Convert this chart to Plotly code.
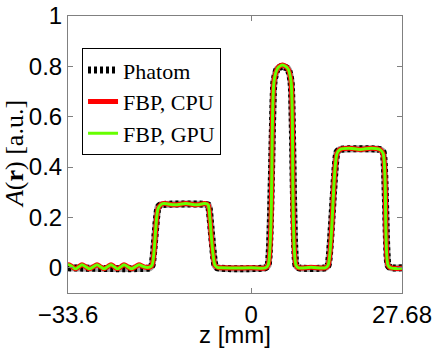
import plotly.graph_objects as go

# Profile knots (z in mm, A in a.u.)
z_fbp = [-33.6, -33.42, -32.82, -32.22, -31.62, -31.03, -30.34, -29.65, -28.96,
         -28.28, -27.64, -27.0, -26.35, -25.71, -25.11, -24.52, -23.92, -23.32,
         -22.63, -21.95, -21.26, -20.57, -19.9, -19.3, -18.6, -18.19, -17.08,
         -16.6, -16.0, -14.0, -12.0, -10.0, -8.5, -7.9, -7.73, -6.63, -6.2,
         -5.5, 0.0, 2.6, 3.1, 4.2, 4.8, 5.2, 5.76, 6.3, 6.77, 7.32, 8.24, 8.7,
         11.0, 13.6, 14.11, 15.76, 16.3, 18.0, 20.0, 22.0, 23.6, 24.2, 25.12,
         25.6, 27.68]
a_fbp = [0.008, 0.012, 0.004, -0.004, 0.004, 0.012, 0.004, -0.004, 0.004,
         0.012, 0.004, -0.004, 0.004, 0.012, 0.004, -0.004, 0.004, 0.012,
         0.004, -0.004, 0.004, 0.012, 0.006, 0.002, 0.003, 0.01, 0.235,
         0.25, 0.255, 0.25, 0.255, 0.25, 0.255, 0.25, 0.235, 0.01, 0.002,
         0.0, 0.0, 0.0, 0.01, 0.74, 0.79, 0.80, 0.805, 0.80, 0.79, 0.74, 0.01, 0.0,
         0.002, 0.0, 0.01, 0.455, 0.47, 0.475, 0.47, 0.475, 0.47, 0.455, 0.01,
         0.0, -0.002]

z_ph = [-33.6, -18.6, -18.19, -17.08, -16.6, -7.9, -7.73, -6.63, -6.2,
        2.6, 3.1, 4.2, 4.8, 5.76, 6.77, 7.32, 8.24, 8.7,
        13.6, 14.11, 15.76, 16.3, 23.6, 24.2, 25.12, 25.6, 27.68]
a_ph = [0.0, 0.0, 0.01, 0.24, 0.25, 0.25, 0.24, 0.01, 0.0,
        0.0, 0.01, 0.74, 0.79, 0.80, 0.79, 0.74, 0.01, 0.0,
        0.0, 0.01, 0.46, 0.47, 0.47, 0.46, 0.01, 0.0, 0.0]

x_tickvals = [-33.6, 0, 27.68]
x_ticktext = ["\u221233.6", "0", "27.68"]
y_tickvals = [0, 0.2, 0.4, 0.6, 0.8, 1]
y_ticktext = ["0", "0.2", "0.4", "0.6", "0.8", "1"]

sans = "Liberation Sans, Arial, sans-serif"
serif = "Liberation Serif, Times New Roman, serif"

fig = go.Figure()
fig.add_trace(go.Scatter(x=z_ph, y=a_ph, mode="lines", showlegend=False,
                         line=dict(color="#a0a0a0", width=7, shape="spline", smoothing=0.5),
                         hoverinfo="skip"))
fig.add_trace(go.Scatter(x=z_ph, y=a_ph, mode="lines", name="Phatom",
                         line=dict(color="black", width=7, dash="3px,3px",
                                   shape="spline", smoothing=0.5)))
fig.add_trace(go.Scatter(x=z_fbp, y=a_fbp, mode="lines", name="FBP, CPU",
                         line=dict(color="#ff0000", width=5, shape="spline", smoothing=0.9)))
fig.add_trace(go.Scatter(x=z_fbp, y=a_fbp, mode="lines", name="FBP, GPU",
                         line=dict(color="#66ff00", width=3, shape="spline", smoothing=0.9)))

axis_common = dict(showline=True, linecolor="#808080", linewidth=1, mirror="ticks",
                   ticks="inside", ticklen=5, tickcolor="#808080", showgrid=False,
                   zeroline=False, automargin=False, ticklabeloverflow="allow",
                   tickfont=dict(family=sans, size=24, color="black"))

fig.update_layout(
    width=436, height=348,
    margin=dict(l=68, r=34, t=16, b=55),
    paper_bgcolor="white", plot_bgcolor="white",
    xaxis=dict(range=[-33.6, 27.68], tickmode="array", tickvals=x_tickvals,
               ticktext=x_ticktext, **axis_common),
    yaxis=dict(range=[-0.1, 1], tickmode="array", tickvals=y_tickvals,
               ticktext=y_ticktext, **axis_common),
    legend=dict(x=0.042, y=0.884, xanchor="left", yanchor="top",
                bordercolor="black", borderwidth=1, bgcolor="white",
                font=dict(family=serif, size=22, color="black"),
                tracegroupgap=0),
    showlegend=True,
    annotations=[
        dict(text="z [mm]", xref="paper", yref="paper", x=0.5, y=-0.149,
             xanchor="center", yanchor="middle", showarrow=False,
             font=dict(family=sans, size=24, color="black")),
        dict(text="<i>A</i>(<b>r</b>) [a.u.]", xref="paper", yref="paper",
             x=-0.16, y=0.5, xanchor="center", yanchor="middle", textangle=-90,
             showarrow=False, font=dict(family=serif, size=26, color="black")),
    ],
)

# remove the default 8px page margin so the figure fills the window exactly
fig.write_html("out.html", config={"displayModeBar": False},
               post_script="document.body.style.margin='0';")
